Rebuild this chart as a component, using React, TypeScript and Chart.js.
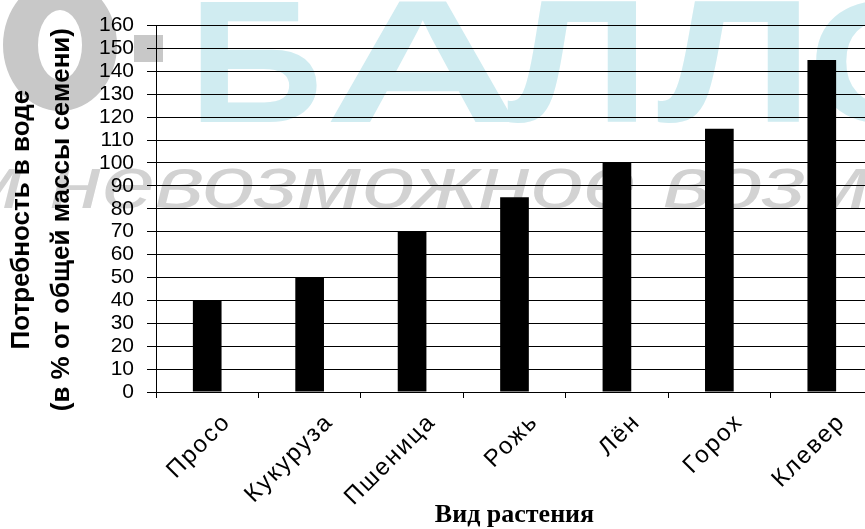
import React, { useEffect, useRef } from "react";
import { Chart, registerables } from "chart.js";

Chart.register(...registerables);

// ---- data ----
const categories = ["Просо", "Кукуруза", "Пшеница", "Рожь", "Лён", "Горох", "Клевер"];
const waterNeed = [40, 50, 70, 85, 100, 115, 145];
const yTitleLines = ["Потребность в воде", "(в % от общей массы семени)"];
const xTitleText = "Вид растения";
const yMin = 0;
const yMax = 160;
const yStep = 10;

// watermark text
const wmLetters = ["Б", "А", "Л", "Л", "О"];
const wmSloganLead = "Сделаем ";
const wmSloganMain = "невозможное возможным";
const wmSloganSpan = "невозможное ";

const SANS = "'Liberation Sans', Arial, sans-serif";
const SERIF = "'Liberation Serif', 'Times New Roman', serif";

const watermarkPlugin = {
  id: "watermark",
  beforeDraw(chart: any) {
    const ctx = chart.ctx as CanvasRenderingContext2D;
    ctx.save();
    ctx.fillStyle = "#ffffff";
    ctx.fillRect(0, 0, chart.width, chart.height);

    // gray ring logo + dash
    ctx.fillStyle = "#c8c8c8";
    ctx.beginPath();
    ctx.ellipse(60, 45, 57, 66, 0, 0, Math.PI * 2);
    ctx.ellipse(60, 45, 22, 35, 0, 0, Math.PI * 2);
    ctx.fill("evenodd");
    ctx.fillRect(134, 35, 29, 27);

    // teal big letters
    const spans = [
      [200, 317],
      [330, 515],
      [507, 637],
      [657, 800],
      [816, 960],
    ];
    ctx.fillStyle = "#d0ecf1";
    ctx.font = `bold 175px ${SANS}`;
    ctx.textAlign = "left";
    ctx.textBaseline = "alphabetic";
    wmLetters.forEach((ch, i) => {
      const m = ctx.measureText(ch);
      const w = m.actualBoundingBoxRight + m.actualBoundingBoxLeft;
      const [x0, x1] = spans[i];
      ctx.save();
      ctx.translate(x0, 122);
      ctx.scale((x1 - x0) / w, 1);
      ctx.fillText(ch, m.actualBoundingBoxLeft, 0);
      ctx.restore();
    });

    // gray slogan
    ctx.fillStyle = "#d2d2d2";
    ctx.font = `italic 74px ${SANS}`;
    const wSpan = ctx.measureText(wmSloganSpan).width;
    const sx = (663 - 50) / wSpan;
    ctx.save();
    ctx.translate(50, 208);
    ctx.scale(sx, 1);
    ctx.textAlign = "left";
    ctx.fillText(wmSloganMain, 0, 0);
    ctx.textAlign = "right";
    ctx.fillText(wmSloganLead, 0, 0);
    ctx.restore();

    ctx.restore();
  },
};

const spacedXLabelsPlugin = {
  id: "spacedXLabels",
  beforeDraw(chart: any) {
    const xs: any = chart.scales.x;
    if (!xs || xs.__spaced) return;
    const orig = xs.drawLabels.bind(xs);
    xs.drawLabels = (area: any) => {
      const c = chart.ctx as any;
      c.save();
      c.letterSpacing = "2px";
      orig(area);
      c.restore();
    };
    xs.__spaced = true;
  },
};

export default function App() {
  const canvasRef = useRef<HTMLCanvasElement | null>(null);

  useEffect(() => {
    const canvas = canvasRef.current;
    if (!canvas) return;
    const chart = new Chart(canvas, {
      type: "bar",
      data: {
        labels: categories,
        datasets: [
          {
            data: waterNeed,
            backgroundColor: "#000000",
            borderWidth: 0,
            barPercentage: 0.28,
            categoryPercentage: 1,
          },
        ],
      },
      options: {
        responsive: false,
        animation: false,
        devicePixelRatio: 1,
        layout: { padding: { top: 20, right: 7, left: 0, bottom: 0 } },
        plugins: {
          legend: { display: false },
          tooltip: { enabled: false },
        },
        scales: {
          x: {
            grid: {
              display: true,
              drawOnChartArea: false,
              drawTicks: true,
              tickLength: 6,
              color: "#000000",
              offset: true,
            },
            border: { display: true, color: "#000000" },
            ticks: {
              font: { family: SANS, size: 24 },
              color: "#000000",
              maxRotation: 45,
              minRotation: 45,
              labelOffset: 20,
              padding: 10,
              autoSkip: false,
            },
            title: {
              display: true,
              text: xTitleText,
              color: "#000000",
              font: { family: SERIF, size: 26, weight: "bold", lineHeight: 1 },
              padding: { top: 0, bottom: 1 },
            },
            afterFit: (s: any) => {
              s.height = 137;
            },
          },
          y: {
            min: yMin,
            max: yMax,
            ticks: {
              stepSize: yStep,
              autoSkip: false,
              font: { family: SANS, size: 21 },
              color: "#000000",
              padding: 13,
            },
            grid: { color: "#000000", lineWidth: 1, tickLength: 9, drawTicks: true },
            border: { display: true, color: "#000000" },
            title: {
              display: true,
              text: yTitleLines.map((t) => t + "   "),
              color: "#000000",
              font: { family: SANS, size: 26, weight: "bold", lineHeight: 1.54 },
              padding: { top: 2, bottom: 0 },
            },
            afterFit: (s: any) => {
              s.width = 156;
            },
          },
        },
      } as any,
      plugins: [watermarkPlugin, spacedXLabelsPlugin],
    });
    return () => chart.destroy();
  }, []);

  return (
    <div
      style={{
        position: "fixed",
        left: 0,
        top: 0,
        width: 865,
        height: 529,
        overflow: "hidden",
        background: "#ffffff",
      }}
    >
      <canvas ref={canvasRef} width={880} height={529} style={{ display: "block" }} />
    </div>
  );
}
